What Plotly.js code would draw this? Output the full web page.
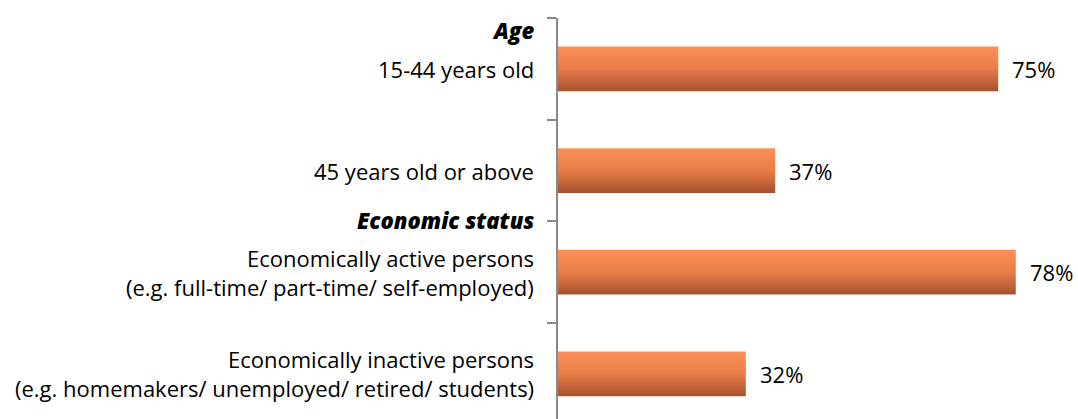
<!DOCTYPE html>
<html>
<head>
<meta charset="utf-8">
<script src="https://cdn.plot.ly/plotly-3.0.1.min.js"></script>
<style>html,body{margin:0;padding:0;background:#fff;}#chart{width:1078px;height:419px;}</style>
</head>
<body>
<div id="chart"></div>
<script>
// Data
const categories = [
  "15-44 years old",
  "45 years old or above",
  "Economically active persons<br>(e.g. full-time/ part-time/ self-employed)",
  "Economically inactive persons<br>(e.g. homemakers/ unemployed/ retired/ students)"
];
const values = [75, 37, 78, 32];
const valueLabels = ["75%", "37%", "78%", "32%"];
const groupHeaders = ["Age", "Economic status"];
const groupStartIndex = [0, 2];

const FONT = "Open Sans, Noto Sans, sans-serif";
const FS = 22;
const positions = categories.map((c, i) => i);

const annotations = [];
// category labels (one annotation per line to control spacing)
categories.forEach((c, i) => {
  const lines = c.split("<br>");
  const spacing = 29;
  lines.forEach((ln, j) => {
    const off = (j - (lines.length - 1) / 2) * spacing;
    annotations.push({
      xref: "paper", yref: "y", x: 0, y: positions[i],
      xanchor: "right", yanchor: "middle", xshift: -22, yshift: -off,
      text: ln, showarrow: false,
      font: {family: FONT, size: FS, color: "#000"}
    });
  });
});
// group headers
groupHeaders.forEach((h, k) => {
  annotations.push({
    xref: "paper", yref: "y", x: 0, y: groupStartIndex[k] - 0.5,
    xanchor: "right", yanchor: "middle", xshift: -22, yshift: k === 0 ? -12 : 1,
    text: "<i>" + h + "</i>", showarrow: false,
    font: {family: FONT, size: FS, color: "#000", weight: 800}
  });
});
// value labels
values.forEach((v, i) => {
  annotations.push({
    xref: "x", yref: "y", x: v, y: positions[i],
    xanchor: "left", yanchor: "middle", xshift: 12,
    text: valueLabels[i], showarrow: false,
    font: {family: FONT, size: FS, color: "#000"}
  });
});

const trace = {
  type: "bar", orientation: "h",
  x: values, y: positions,
  width: 0.44,
  marker: {color: "#E57A48", line: {width: 0}},
  hoverinfo: "none"
};

const layout = {
  width: 1078, height: 419,
  margin: {l: 558, r: 0, t: 18, b: 0, pad: 0},
  paper_bgcolor: "#fff", plot_bgcolor: "#fff",
  showlegend: false,
  xaxis: {range: [0, 88.6], visible: false, fixedrange: true},
  yaxis: {
    range: [3.443, -0.5], showgrid: false, zeroline: false,
    showline: true, linecolor: "#8a8a8a", linewidth: 2,
    ticks: "outside", ticklen: 9, tickwidth: 2, tickcolor: "#8a8a8a",
    tickvals: [-0.5, 0.5, 1.5, 2.5, 3.5], showticklabels: false,
    fixedrange: true
  },
  annotations: annotations
};

function applyGradient() {
  const gd = document.getElementById("chart");
  const svg = gd.querySelector("svg.main-svg");
  if (!svg) return;
  if (!document.getElementById("barGrad")) {
    const ns = "http://www.w3.org/2000/svg";
    const defs = document.createElementNS(ns, "defs");
    const lg = document.createElementNS(ns, "linearGradient");
    lg.setAttribute("id", "barGrad");
    lg.setAttribute("x1", "0"); lg.setAttribute("y1", "0");
    lg.setAttribute("x2", "0"); lg.setAttribute("y2", "1");
    [["0", "#FB9157"], ["0.5", "#E97C4A"], ["1", "#A5522E"]].forEach(s => {
      const st = document.createElementNS(ns, "stop");
      st.setAttribute("offset", s[0]);
      st.setAttribute("stop-color", s[1]);
      lg.appendChild(st);
    });
    defs.appendChild(lg);
    svg.insertBefore(defs, svg.firstChild);
  }
  gd.querySelectorAll(".barlayer .point path").forEach(p => {
    p.style.fill = "url(#barGrad)";
  });
}

Plotly.newPlot("chart", [trace], layout, {displayModeBar: false, staticPlot: true}).then(applyGradient);
</script>
</body>
</html>
